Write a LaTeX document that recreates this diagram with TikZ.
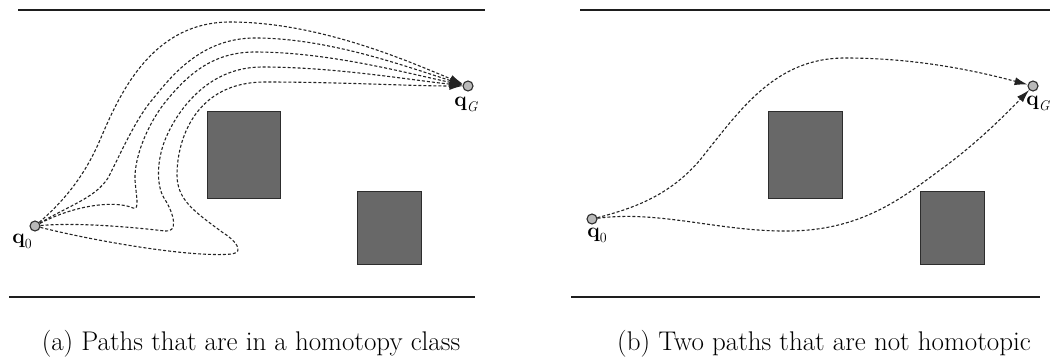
\documentclass[tikz,border=0pt]{standalone}
\usetikzlibrary{arrows.meta,positioning}
\definecolor{wallgray}{RGB}{30,30,30}
\definecolor{obsfill}{RGB}{104,104,104}
\definecolor{obsedge}{RGB}{45,45,45}
\definecolor{ptfill}{RGB}{185,185,185}
\definecolor{pathgray}{RGB}{35,35,35}
\newcommand{\ptname}[1]{\textbf{q}\raisebox{-5pt}{\fontsize{14}{16}\selectfont#1}}

\begin{document}
\begin{tikzpicture}[x=1pt,y=-1pt,>={Latex[length=13pt,width=8pt]},
    font=\fontsize{21}{24}\selectfont,node distance=1pt,
    wall/.style={line width=2.8pt,draw=wallgray},
    obs/.style={draw=obsedge,fill=obsfill,line width=1pt},
    pt/.style={circle,draw=obsedge,fill=ptfill,line width=1.1pt,minimum size=10pt,inner sep=0pt},
    lbl/.style={inner sep=0pt},
    hpath/.style={->,draw=pathgray,line width=1.1pt,dash pattern=on 3pt off 2pt},
    captext/.style={font=\fontsize{27}{30}\selectfont,anchor=base}]
  \useasboundingbox (0,0) rectangle (1059,356);
  % (a) one homotopy class
  \draw[wall] (18,10) -- (485,10);
  \draw[wall] (9,297) -- (475,297);
  \draw[obs] (207,111) rectangle (280,198);
  \draw[obs] (357,191) rectangle (421,264);
  \node[pt] (q0a) at (35,226) {};
  \node[pt] (qGa) at (468,86) {};
  \node[lbl,below=2pt of q0a,xshift=-13pt] (q0alab) {\ptname{0}};
  \node[lbl,below=5pt of qGa,xshift=-2pt] (qGalab) {\ptname{\itshape G}};
  \draw[hpath] (q0a) .. controls (65,200) and (85,175) .. (100,140)
    .. controls (118,98) and (150,22) .. (230,22)
    .. controls (320,22) and (410,62) .. (qGa);
  \draw[hpath] (q0a) .. controls (70,205) and (95,198) .. (108,178)
    .. controls (120,155) and (135,120) .. (152,100)
    .. controls (170,78) and (200,38) .. (255,38)
    .. controls (330,38) and (410,68) .. (qGa);
  \draw[hpath] (q0a) .. controls (75,205) and (115,200) .. (133,208)
    .. controls (140,211) and (136,195) .. (135,180)
    .. controls (134,155) and (150,120) .. (167,100)
    .. controls (190,72) and (215,52) .. (255,52)
    .. controls (330,52) and (410,74) .. (qGa);
  \draw[hpath] (q0a) .. controls (80,222) and (140,228) .. (165,231)
    .. controls (178,233) and (175,215) .. (164,198)
    .. controls (156,185) and (157,160) .. (165,140)
    .. controls (175,115) and (205,67) .. (262,67)
    .. controls (335,67) and (410,80) .. (qGa);
  \draw[hpath] (q0a) .. controls (90,240) and (190,258) .. (232,254)
    .. controls (245,252) and (235,240) .. (222,232)
    .. controls (195,212) and (177,200) .. (177,175)
    .. controls (177,140) and (195,82) .. (265,82)
    .. controls (340,82) and (410,86) .. (qGa);
  \node[captext] (capa) at (251,350) {(a) Paths that are in a homotopy class};
  % (b) not homotopic
  \draw[wall] (580,10) -- (1050,10);
  \draw[wall] (571,297) -- (1040,297);
  \draw[obs] (768,111) rectangle (842,198);
  \draw[obs] (920,191) rectangle (984,264);
  \node[pt] (q0b) at (592,219) {};
  \node[pt] (qGb) at (1033,86) {};
  \node[lbl,below=3pt of q0b,xshift=5pt] (q0blab) {\ptname{0}};
  \node[lbl,below=4pt of qGb,xshift=5pt] (qGblab) {\ptname{\itshape G}};
  \draw[hpath] (q0b) .. controls (635,208) and (670,195) .. (700,160)
    .. controls (740,110) and (775,58) .. (845,58)
    .. controls (920,58) and (980,72) .. (qGb);
  \draw[hpath] (q0b) .. controls (660,210) and (720,232) .. (790,231)
    .. controls (860,230) and (900,200) .. (940,170)
    .. controls (975,145) and (1005,115) .. (qGb);
  \node[captext] (capb) at (824,350) {(b) Two paths that are not homotopic};
\end{tikzpicture}
\end{document}
